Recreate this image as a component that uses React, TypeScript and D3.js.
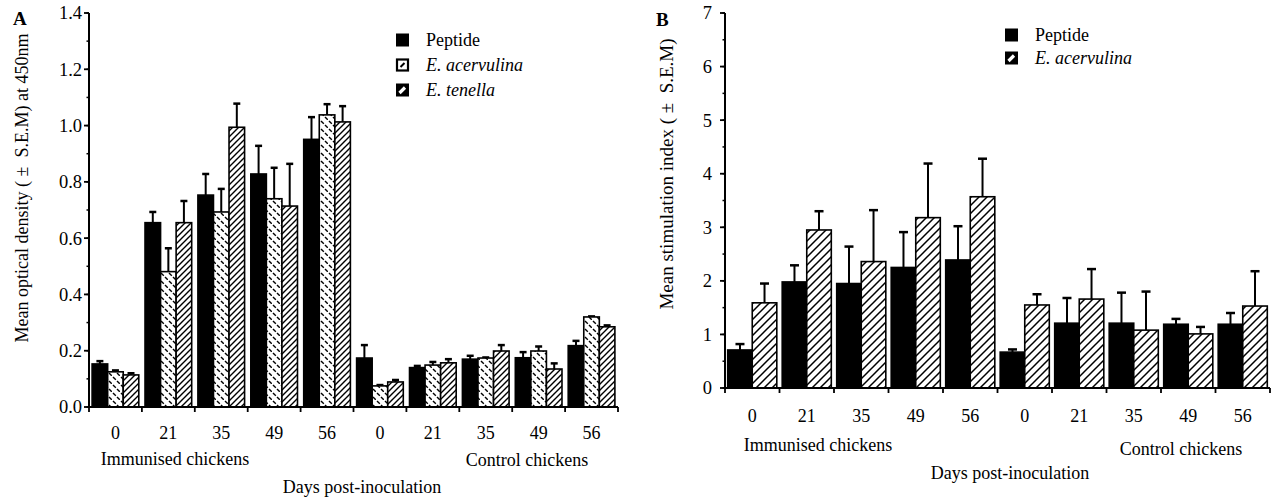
import React from "react";
import * as d3 from "d3";

// ---------- Data ----------
const groupLabels = ["0", "21", "35", "49", "56", "0", "21", "35", "49", "56"];

// Panel A: mean optical density at 450nm
const seriesA = ["Peptide", "E. acervulina", "E. tenella"];
const aPeptide = [0.153, 0.655, 0.753, 0.828, 0.951, 0.174, 0.14, 0.17, 0.175, 0.218];
const aPeptideSem = [0.01, 0.038, 0.075, 0.1, 0.079, 0.046, 0.006, 0.012, 0.02, 0.017];
const aAcerv = [0.125, 0.481, 0.693, 0.74, 1.038, 0.075, 0.149, 0.174, 0.199, 0.32];
const aAcervSem = [0.005, 0.083, 0.082, 0.11, 0.038, 0.003, 0.011, 0.002, 0.016, 0.002];
const aTenella = [0.114, 0.655, 0.994, 0.714, 1.013, 0.089, 0.157, 0.199, 0.135, 0.285];
const aTenellaSem = [0.006, 0.077, 0.084, 0.15, 0.056, 0.007, 0.013, 0.021, 0.02, 0.005];
const yTicksA = [0, 0.2, 0.4, 0.6, 0.8, 1.0, 1.2, 1.4];

// Panel B: mean stimulation index
const seriesB = ["Peptide", "E. acervulina"];
const bPeptide = [0.71, 1.98, 1.95, 2.25, 2.39, 0.67, 1.21, 1.21, 1.19, 1.19];
const bPeptideSem = [0.11, 0.31, 0.69, 0.66, 0.63, 0.05, 0.47, 0.57, 0.1, 0.21];
const bAcerv = [1.59, 2.95, 2.36, 3.18, 3.57, 1.55, 1.66, 1.08, 1.01, 1.53];
const bAcervSem = [0.36, 0.35, 0.96, 1.01, 0.71, 0.2, 0.56, 0.72, 0.13, 0.65];
const yTicksB = [0, 1, 2, 3, 4, 5, 6, 7];

const FONT = "'Liberation Serif', 'Times New Roman', serif";

type Series = { name: string; values: number[]; sem: number[]; fill: string };

function Panel(props: {
  x0: number; x1: number; yTop: number; yBottom: number; yMax: number;
  ticks: number[]; minorStep: number; fmt: (v: number) => string;
  series: Series[]; outerPad: number; tickLabelX: number;
  tickLabelY: number; immX: number; immY: number; ctrlX: number; ctrlY: number;
  daysX: number; daysY: number; yLabel: string; yLabelX: number; yLabelY: number;
  yLabelSize: number;
}) {
  const p = props;
  const x = d3.scaleBand<number>().domain(d3.range(groupLabels.length)).range([p.x0, p.x1]).padding(0);
  const inner = d3.scaleBand<number>().domain(d3.range(p.series.length)).range([0, x.bandwidth()])
    .paddingInner(0).paddingOuter(p.outerPad);
  const y = d3.scaleLinear().domain([0, p.yMax]).range([p.yBottom, p.yTop]);
  const minor = d3.range(0, p.yMax + 1e-9, p.minorStep);
  const bounds = d3.range(groupLabels.length + 1).map((i) => p.x0 + i * x.step());
  const capW = Math.min(9, inner.bandwidth() * 0.45);
  return (
    <g fontFamily={FONT} fill="#000">
      {groupLabels.map((_, gi) =>
        p.series.map((s, si) => {
          const bx = (x(gi) as number) + (inner(si) as number);
          const bw = inner.bandwidth();
          const v = s.values[gi];
          const top = y(v + s.sem[gi]);
          const cx = bx + bw / 2;
          return (
            <g key={`${gi}-${si}`}>
              <line x1={cx} x2={cx} y1={y(v)} y2={top} stroke="#000" strokeWidth={2} />
              <line x1={cx - capW / 2} x2={cx + capW / 2} y1={top} y2={top} stroke="#000" strokeWidth={2.5} />
              <rect x={bx} y={y(v)} width={bw} height={y(0) - y(v)} fill={s.fill} stroke="#000" strokeWidth={1.6} />
            </g>
          );
        })
      )}
      {/* y axis */}
      <line x1={p.x0} x2={p.x0} y1={p.yTop} y2={p.yBottom + 1} stroke="#000" strokeWidth={2} />
      {minor.map((t, i) => (
        <line key={`m${i}`} x1={p.x0 - 2.5} x2={p.x0} y1={y(t)} y2={y(t)} stroke="#000" strokeWidth={1.5} />
      ))}
      {p.ticks.map((t) => (
        <g key={`t${t}`}>
          <line x1={p.x0 - 5} x2={p.x0} y1={y(t)} y2={y(t)} stroke="#000" strokeWidth={1.8} />
          <text x={p.tickLabelX} y={y(t)} dy="0.35em" textAnchor="end" fontSize={18.5}>{p.fmt(t)}</text>
        </g>
      ))}
      {/* x axis */}
      <line x1={p.x0 - 1} x2={p.x1} y1={p.yBottom} y2={p.yBottom} stroke="#000" strokeWidth={2} />
      {bounds.map((bx, i) => (
        <line key={`b${i}`} x1={bx} x2={bx} y1={p.yBottom} y2={p.yBottom + 5} stroke="#000" strokeWidth={1.8} />
      ))}
      {groupLabels.map((g, gi) => (
        <text key={`g${gi}`} x={(x(gi) as number) + x.bandwidth() / 2} y={p.tickLabelY} textAnchor="middle" fontSize={18}>{g}</text>
      ))}
      <text x={p.immX} y={p.immY} textAnchor="middle" fontSize={18}>Immunised chickens</text>
      <text x={p.ctrlX} y={p.ctrlY} textAnchor="middle" fontSize={18}>Control chickens</text>
      <text x={p.daysX} y={p.daysY} textAnchor="middle" fontSize={18}>Days post-inoculation</text>
      <text transform={`translate(${p.yLabelX},${p.yLabelY}) rotate(-90)`} textAnchor="middle" fontSize={p.yLabelSize}>{p.yLabel}</text>
    </g>
  );
}

function Legend(props: { x: number; y: number; step: number; items: { name: string; kind: string }[] }) {
  return (
    <g fontFamily={FONT}>
      {props.items.map((it, i) => {
        const cy = props.y + i * props.step;
        const sx = props.x;
        const sy = cy - 6.5;
        return (
          <g key={it.name}>
            {it.kind === "solid" && <rect x={sx} y={sy} width={13} height={13} fill="#000" />}
            {it.kind === "dash" && (
              <g>
                <rect x={sx + 1} y={sy + 1} width={11} height={11} fill="#fff" stroke="#000" strokeWidth={2.2} />
                <line x1={sx + 4.5} y1={sy + 8.5} x2={sx + 8.5} y2={sy + 4.5} stroke="#000" strokeWidth={2} />
              </g>
            )}
            {it.kind === "hatch" && (
              <g>
                <rect x={sx} y={sy} width={13} height={13} fill="#000" />
                <line x1={sx + 3.5} y1={sy + 9.5} x2={sx + 9} y2={sy + 4} stroke="#fff" strokeWidth={3.2} />
              </g>
            )}
            <text x={sx + 30} y={cy} dy="0.35em" fontSize={18} fontStyle={it.name === "Peptide" ? "normal" : "italic"}>{it.name}</text>
          </g>
        );
      })}
    </g>
  );
}

export default function App() {
  const W = 1274, H = 498;
  const sA: Series[] = [
    { name: seriesA[0], values: aPeptide, sem: aPeptideSem, fill: "#000" },
    { name: seriesA[1], values: aAcerv, sem: aAcervSem, fill: "url(#dashA)" },
    { name: seriesA[2], values: aTenella, sem: aTenellaSem, fill: "url(#hatchA)" },
  ];
  const sB: Series[] = [
    { name: seriesB[0], values: bPeptide, sem: bPeptideSem, fill: "#000" },
    { name: seriesB[1], values: bAcerv, sem: bAcervSem, fill: "url(#hatchB)" },
  ];
  return (
    <div style={{ position: "absolute", left: 0, top: 0 }}>
      <svg width={W} height={H} viewBox={`0 0 ${W} ${H}`} style={{ display: "block", background: "#fff" }}>
        <defs>
          <pattern id="dashA" patternUnits="userSpaceOnUse" width={8} height={8}>
            <rect width={8} height={8} fill="#fff" />
            <line x1={1} y1={1} x2={3.8} y2={3.8} stroke="#000" strokeWidth={1.4} />
            <line x1={5} y1={5} x2={7.8} y2={7.8} stroke="#000" strokeWidth={1.4} />
          </pattern>
          <pattern id="hatchA" patternUnits="userSpaceOnUse" width={6} height={6}>
            <rect width={6} height={6} fill="#fff" />
            <path d="M0,6 L6,0 M-1,1 L1,-1 M5,7 L7,5" stroke="#000" strokeWidth={1.4} />
          </pattern>
          <pattern id="hatchB" patternUnits="userSpaceOnUse" width={8} height={8}>
            <rect width={8} height={8} fill="#fff" />
            <path d="M0,8 L8,0 M-1,1 L1,-1 M7,9 L9,7" stroke="#000" strokeWidth={1.5} />
          </pattern>
        </defs>
        <rect width={W} height={H} fill="#fff" />
        <text x={13} y={25} fontFamily={FONT} fontWeight="bold" fontSize={19}>A</text>
        <text x={656} y={26} fontFamily={FONT} fontWeight="bold" fontSize={19}>B</text>
        <Panel
          x0={89} x1={618} yTop={13} yBottom={407} yMax={1.4}
          ticks={yTicksA} minorStep={0.1} fmt={d3.format(".1f")}
          series={sA} outerPad={0.2} tickLabelX={82}
          tickLabelY={439} immX={175} immY={465} ctrlX={527} ctrlY={466}
          daysX={362} daysY={493}
          yLabel={"Mean optical density (\u00A0±\u00A0 S.E.M) at 450nm"} yLabelX={28} yLabelY={188} yLabelSize={18}
        />
        <Panel
          x0={725} x1={1270} yTop={13} yBottom={388} yMax={7}
          ticks={yTicksB} minorStep={0.5} fmt={d3.format("d")}
          series={sB} outerPad={0.11} tickLabelX={712}
          tickLabelY={422} immX={818} immY={451} ctrlX={1181} ctrlY={455}
          daysX={1010} daysY={479}
          yLabel={"Mean stimulation index (\u00A0±\u00A0 S.E.M)"} yLabelX={673} yLabelY={174} yLabelSize={19}
        />
        <Legend x={396} y={40} step={25} items={[
          { name: seriesA[0], kind: "solid" },
          { name: seriesA[1], kind: "dash" },
          { name: seriesA[2], kind: "hatch" },
        ]} />
        <Legend x={1005} y={35} step={23} items={[
          { name: seriesB[0], kind: "solid" },
          { name: seriesB[1], kind: "hatch" },
        ]} />
      </svg>
    </div>
  );
}
